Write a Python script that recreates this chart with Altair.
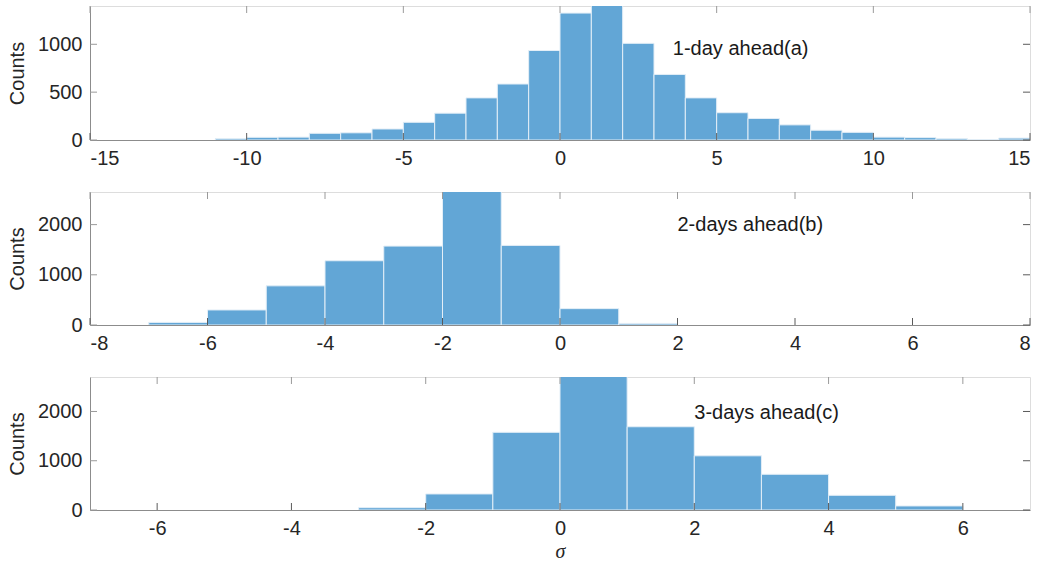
import altair as alt
import pandas as pd

# ---- data ----
p1_lo = list(range(-11, 15))
p1_counts = [15, 28, 30, 70, 75, 115, 185, 280, 440, 585, 935, 1326, 1450,
             1010, 685, 440, 285, 225, 158, 102, 80, 30, 25, 15, 3, 20]
p2_lo = list(range(-7, 2))
p2_counts = [52, 300, 780, 1280, 1572, 2750, 1586, 326, 32]
p3_lo = list(range(-3, 6))
p3_counts = [47, 326, 1577, 2800, 1690, 1100, 725, 298, 82]

p1_xticks = [-15, -10, -5, 0, 5, 10, 15]
p2_xticks = [-8, -6, -4, -2, 0, 2, 4, 6, 8]
p3_xticks = [-6, -4, -2, 0, 2, 4, 6]
p1_yticks = [0, 500, 1000]
p23_yticks = [0, 1000, 2000]

labels = ["1-day ahead(a)", "2-days ahead(b)", "3-days ahead(c)"]
label_x = [3.6, 2.0, 2.0]
label_y = [950, 2000, 1960]

BAR = "#62a6d6"
EDGE = "#e3eef7"
TICK = "#5a5a5a"
FONT = "Liberation Sans"
W = 940
TL = 7
LBL = "datum.value + ''"


def panel(lo, counts, xdom, ydom, xticks, yticks, H, text, tx, ty, xtitle=None):
    df = pd.DataFrame({"lo": lo, "hi": [v + 1 for v in lo], "count": counts})
    xs = alt.Scale(domain=xdom, nice=False, zero=False)
    ys = alt.Scale(domain=ydom, nice=False)
    common = dict(tickSize=0, labelPadding=8, grid=False, domainColor="#8c8c8c",
                  labelFontSize=20, labelColor="#262626", labelFont=FONT, labelExpr=LBL)
    if xtitle:
        xaxis = alt.Axis(values=xticks, title=xtitle, titleFont="Liberation Serif",
                         titleFontStyle="italic", titleFontWeight="normal", titleFontSize=20,
                         titleColor="#262626", titlePadding=3, **common)
    else:
        xaxis = alt.Axis(values=xticks, title=None, **common)
    yaxis = alt.Axis(values=yticks, title="Counts", titleFont=FONT, titleFontSize=20,
                     titleFontWeight="normal", titleColor="#262626", titlePadding=10, **common)
    bars = alt.Chart(df).mark_rect(color=BAR, stroke=EDGE, strokeWidth=1, clip=True).encode(
        x=alt.X("lo:Q", scale=xs, axis=xaxis),
        x2="hi:Q",
        y=alt.Y("count:Q", scale=ys, axis=yaxis),
        y2=alt.datum(0),
    )
    xt = pd.DataFrame({"lo": xticks})
    yt = pd.DataFrame({"count": yticks})
    bt = alt.Chart(xt).mark_rule(color=TICK, strokeWidth=1).encode(
        x="lo:Q", y=alt.value(H), y2=alt.value(H - TL))
    tt = alt.Chart(xt).mark_rule(color="#9a9a9a", strokeWidth=1).encode(
        x="lo:Q", y=alt.value(0), y2=alt.value(TL))
    lt = alt.Chart(yt).mark_rule(color="#9a9a9a", strokeWidth=1).encode(
        y="count:Q", x=alt.value(0), x2=alt.value(TL))
    rt = alt.Chart(yt).mark_rule(color=TICK, strokeWidth=1).encode(
        y="count:Q", x=alt.value(W), x2=alt.value(W - TL))
    tdf = pd.DataFrame({"lo": [tx], "count": [ty], "label": [text]})
    txt = alt.Chart(tdf).mark_text(align="left", baseline="middle", font=FONT,
                                   fontSize=20, color="#1a1a1a").encode(
        x="lo:Q", y="count:Q", text="label:N")
    return alt.layer(bars, bt, tt, lt, rt, txt).properties(width=W, height=H)


c1 = panel(p1_lo, p1_counts, [-15, 15], [0, 1400], p1_xticks, p1_yticks, 134,
           labels[0], label_x[0], label_y[0])
c2 = panel(p2_lo, p2_counts, [-8, 8], [0, 2650], p2_xticks, p23_yticks, 133,
           labels[1], label_x[1], label_y[1])
c3 = panel(p3_lo, p3_counts, [-7, 7], [0, 2700], p3_xticks, p23_yticks, 133,
           labels[2], label_x[2], label_y[2], xtitle="σ")

chart = alt.vconcat(c1, c2, c3, spacing=52, bounds="flush").properties(
    padding={"left": 7, "top": 5, "right": 10, "bottom": 5}
).configure_view(stroke="#c8c8c8", strokeWidth=1).configure(background="white")

chart.save("out.html", embed_options={"renderer": "svg", "actions": False})
